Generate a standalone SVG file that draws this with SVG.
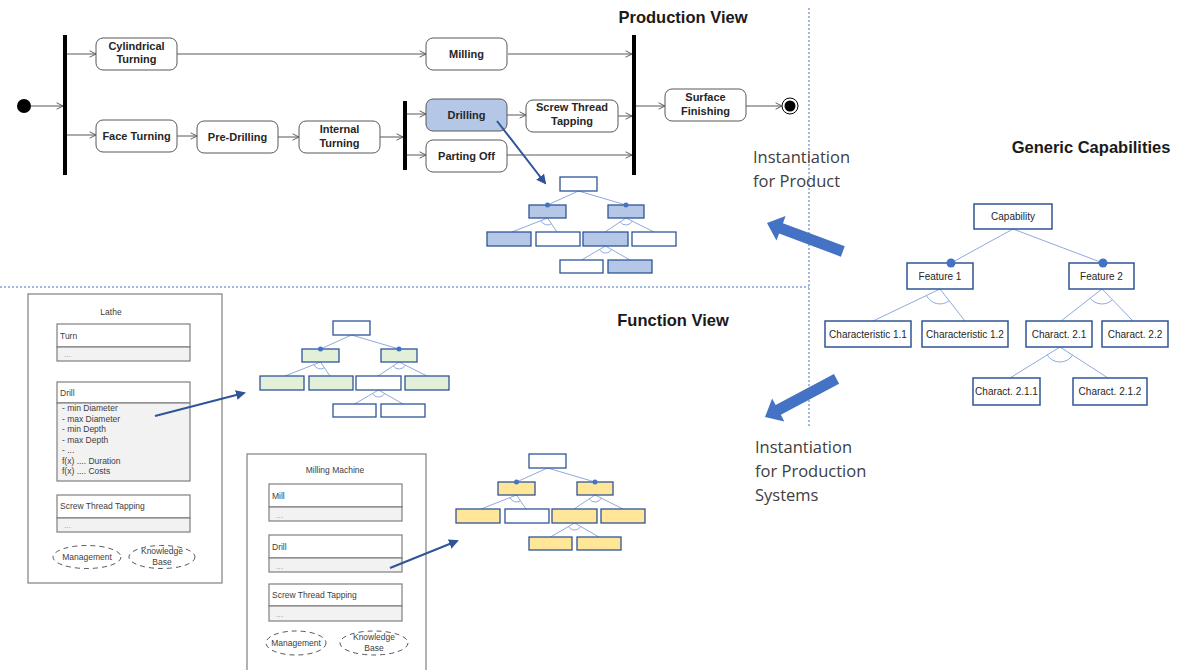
<svg xmlns="http://www.w3.org/2000/svg" xmlns:xlink="http://www.w3.org/1999/xlink" width="1197" height="670" viewBox="0 0 1197 670">
<style>
.title{font-family:"Liberation Sans",Arial,sans-serif;font-weight:bold;font-size:16.5px;fill:#1a1a1a;text-anchor:middle}
.lbl{font-family:"Open Sans","Liberation Sans",sans-serif;font-size:16.5px;fill:#404040}
.act{fill:#fff;stroke:#595959;stroke-width:1}
.actb{fill:#b4c7e7;stroke:#595959;stroke-width:1}
.at{font-family:"Liberation Sans",Arial,sans-serif;font-weight:bold;font-size:11px;fill:#262626;text-anchor:middle}
.flow{stroke:#595959;stroke-width:1;fill:none;marker-end:url(#open)}
.bar{fill:#000}
.dot{fill:#4472c4}
.tl{stroke:#8faadc;stroke-width:1;fill:none}
.cb{fill:#fff;stroke:#2f5597;stroke-width:1.5}
.ct{font-family:"Liberation Sans",Arial,sans-serif;font-size:10px;fill:#262626;text-anchor:middle}
.tw{fill:#fff;stroke:#2f5597;stroke-width:1.3}
.tb{fill:#b4c7e7;stroke:#2f5597;stroke-width:1.3}
.tg{fill:#e2f0d9;stroke:#2f5597;stroke-width:1.3}
.ty{fill:#ffe699;stroke:#2f5597;stroke-width:1.3}
.mach{fill:#fff;stroke:#7f7f7f;stroke-width:1.2}
.sec{fill:#fff;stroke:#7f7f7f;stroke-width:1.2}
.secg{fill:#f2f2f2;stroke:#7f7f7f;stroke-width:1.2}
.mt{font-family:"Liberation Sans",Arial,sans-serif;font-size:8.5px;fill:#404040}
.mtc{font-family:"Liberation Sans",Arial,sans-serif;font-size:8.5px;fill:#404040;text-anchor:middle}
.dots{font-family:"Liberation Sans",Arial,sans-serif;font-size:8.5px;fill:#a6a6a6}
.ell{fill:#fff;stroke:#595959;stroke-width:1;stroke-dasharray:5,4}
.sep{stroke:#4472c4;stroke-width:1;stroke-dasharray:2,2;fill:none}
.link{stroke:#2f5597;stroke-width:2;fill:none;marker-end:url(#solid)}
.big{fill:#4472c4}
</style>
<defs>
<marker id="open" viewBox="0 0 10 10" refX="9" refY="5" markerWidth="8" markerHeight="8" markerUnits="userSpaceOnUse" orient="auto">
<path d="M1,1 L9,5 L1,9" fill="none" stroke="#595959" stroke-width="1.2"/>
</marker>
<marker id="solid" viewBox="0 0 10 10" refX="8" refY="5" markerWidth="5" markerHeight="5" orient="auto">
<path d="M0,0 L10,5 L0,10 z" fill="#2f5597"/>
</marker>
<g id="treeLines">
<path class="tl" d="M18.5,14 L-12.5,28 M18.5,14 L66,28"/>
<path class="tl" d="M-12.5,41 L-48,55 M-12.5,41 L-3,55 M-19,43.6 A7,7 0 0 0 -8.6,46.8"/>
<path class="tl" d="M66,41 L45,55 M66,41 L94,55 M60.2,44.9 A7,7 0 0 0 72.3,44.1"/>
<path class="tl" d="M45.5,69 L21.5,83 M45.5,69 L70,83 M39.5,72.5 A7,7 0 0 0 51.6,72.5"/>
</g>
<path id="bigArrow" d="M0,0 L15,-13 L15,-5.5 L81,-5.5 L81,5.5 L15,5.5 L15,13 Z"/>
</defs>

<!-- separators -->
<g id="separators">
<line class="sep" x1="809" y1="8" x2="809" y2="428"/>
<line class="sep" x1="0" y1="287" x2="809" y2="287"/>
</g>

<!-- titles and labels -->
<text class="title" x="683" y="23">Production View</text>
<text class="title" x="673" y="326">Function View</text>
<text class="title" x="1091" y="153">Generic Capabilities</text>
<text class="lbl" x="753" y="163">Instantiation</text>
<text class="lbl" x="753" y="187">for Product</text>
<text class="lbl" x="755" y="453">Instantiation</text>
<text class="lbl" x="755" y="477">for Production</text>
<text class="lbl" x="755" y="501">Systems</text>

<!-- production view nodes -->
<g id="start"><circle cx="24" cy="106" r="7" fill="#000"/></g>
<g id="fork1"><rect class="bar" x="63" y="35" width="4" height="140"/></g>
<g id="join2"><rect class="bar" x="632" y="35" width="4" height="140"/></g>
<g id="fork3"><rect class="bar" x="403" y="101" width="4" height="69"/></g>
<g id="end"><circle cx="790" cy="106" r="8" fill="#fff" stroke="#000" stroke-width="1"/><circle cx="790" cy="106" r="5.5" fill="#000"/></g>
<g id="cylTurning"><rect class="act" x="96" y="38" width="81" height="32" rx="7"/><text class="at" x="136.5" y="49.5">Cylindrical</text><text class="at" x="136.5" y="63">Turning</text></g>
<g id="milling"><rect class="act" x="426" y="38" width="81" height="32" rx="7"/><text class="at" x="466.5" y="58">Milling</text></g>
<g id="faceTurning"><rect class="act" x="96" y="120" width="81" height="32" rx="7"/><text class="at" x="136.5" y="140">Face Turning</text></g>
<g id="preDrilling"><rect class="act" x="197" y="121" width="81" height="32" rx="7"/><text class="at" x="237.5" y="141">Pre-Drilling</text></g>
<g id="internalTurning"><rect class="act" x="299" y="121" width="81" height="32" rx="7"/><text class="at" x="339.5" y="133">Internal</text><text class="at" x="339.5" y="147">Turning</text></g>
<g id="drilling"><rect class="actb" x="426" y="99" width="81" height="32" rx="7"/><text class="at" x="466.5" y="119">Drilling</text></g>
<g id="screwTapping"><rect class="act" x="526" y="100" width="92" height="32" rx="7"/><text class="at" x="572" y="111">Screw Thread</text><text class="at" x="572" y="125">Tapping</text></g>
<g id="partingOff"><rect class="act" x="426" y="140" width="81" height="32" rx="7"/><text class="at" x="466.5" y="160">Parting Off</text></g>
<g id="surfaceFinishing"><rect class="act" x="665" y="89" width="81" height="32" rx="7"/><text class="at" x="705.5" y="101">Surface</text><text class="at" x="705.5" y="115">Finishing</text></g>

<!-- product instance tree (blue) -->
<g id="treeProduct" transform="translate(560,177)">
<use href="#treeLines"/>
<rect class="tw" x="0" y="0" width="37" height="14"/>
<rect class="tb" x="-31" y="28" width="37" height="13"/>
<rect class="tb" x="48" y="28" width="36" height="13"/>
<rect class="tb" x="-73" y="55" width="44" height="14"/>
<rect class="tw" x="-24" y="55" width="44" height="14"/>
<rect class="tb" x="23" y="55" width="45" height="14"/>
<rect class="tw" x="72" y="55" width="44" height="14"/>
<rect class="tw" x="0" y="83" width="43" height="13"/>
<rect class="tb" x="48" y="83" width="44" height="13"/>
<circle class="dot" cx="-12.5" cy="28" r="2.5"/><circle class="dot" cx="66" cy="28" r="2.5"/>
</g>

<!-- lathe instance tree (green) -->
<g id="treeLathe" transform="translate(333,321)">
<use href="#treeLines"/>
<rect class="tw" x="0" y="0" width="37" height="14"/>
<rect class="tg" x="-31" y="28" width="37" height="13"/>
<rect class="tg" x="48" y="28" width="36" height="13"/>
<rect class="tg" x="-73" y="55" width="44" height="14"/>
<rect class="tg" x="-24" y="55" width="44" height="14"/>
<rect class="tw" x="23" y="55" width="45" height="14"/>
<rect class="tg" x="72" y="55" width="44" height="14"/>
<rect class="tw" x="0" y="83" width="43" height="13"/>
<rect class="tw" x="48" y="83" width="44" height="13"/>
<circle class="dot" cx="-12.5" cy="28" r="2.5"/><circle class="dot" cx="66" cy="28" r="2.5"/>
</g>

<!-- milling instance tree (yellow) -->
<g id="treeMilling" transform="translate(529,454)">
<use href="#treeLines"/>
<rect class="tw" x="0" y="0" width="37" height="14"/>
<rect class="ty" x="-31" y="28" width="37" height="13"/>
<rect class="ty" x="48" y="28" width="36" height="13"/>
<rect class="ty" x="-73" y="55" width="44" height="14"/>
<rect class="tw" x="-24" y="55" width="44" height="14"/>
<rect class="ty" x="23" y="55" width="45" height="14"/>
<rect class="ty" x="72" y="55" width="44" height="14"/>
<rect class="ty" x="0" y="83" width="43" height="13"/>
<rect class="ty" x="48" y="83" width="44" height="13"/>
<circle class="dot" cx="-12.5" cy="28" r="2.5"/><circle class="dot" cx="66" cy="28" r="2.5"/>
</g>

<!-- generic capability tree -->
<g id="capTreeLines">
<path class="tl" d="M1013,229 L951,263 M1013,229 L1103,263"/>
<path class="tl" d="M940,289 L873,321 M940,289 L965,321 M926.5,295.5 A15,15 0 0 0 949.2,300.8"/>
<path class="tl" d="M1102,289 L1061,321 M1102,289 L1133,321 M1090.2,298.2 A15,15 0 0 0 1112.4,299.8"/>
<path class="tl" d="M1060,347 L1010,378 M1060,347 L1108,378 M1047.2,354.9 A15,15 0 0 0 1072.6,355.1"/>
</g>
<g id="capability"><rect class="cb" x="974" y="204" width="78" height="25"/><text class="ct" x="1013" y="219.5">Capability</text></g>
<g id="feature1"><rect class="cb" x="907" y="263" width="66" height="26"/><text class="ct" x="940" y="279.5">Feature 1</text><circle class="dot" cx="951" cy="263" r="4.5"/></g>
<g id="feature2"><rect class="cb" x="1069" y="263" width="65" height="26"/><text class="ct" x="1101.5" y="279.5">Feature 2</text><circle class="dot" cx="1103" cy="263" r="4.5"/></g>
<g id="char11"><rect class="cb" x="825" y="321" width="86" height="26"/><text class="ct" x="868" y="337.5">Characteristic 1.1</text></g>
<g id="char12"><rect class="cb" x="922" y="321" width="86" height="26"/><text class="ct" x="965" y="337.5">Characteristic 1.2</text></g>
<g id="char21"><rect class="cb" x="1026" y="321" width="66" height="26"/><text class="ct" x="1059" y="337.5">Charact. 2.1</text></g>
<g id="char22"><rect class="cb" x="1102" y="321" width="66" height="26"/><text class="ct" x="1135" y="337.5">Charact. 2.2</text></g>
<g id="char211"><rect class="cb" x="973" y="378" width="67" height="27"/><text class="ct" x="1006.5" y="394.5">Charact. 2.1.1</text></g>
<g id="char212"><rect class="cb" x="1073" y="378" width="74" height="27"/><text class="ct" x="1110" y="394.5">Charact. 2.1.2</text></g>

<!-- lathe -->
<g id="lathe">
<rect class="mach" x="28" y="294" width="194" height="289"/>
<text class="mtc" x="111" y="315">Lathe</text>
<rect class="sec" x="57" y="324" width="133" height="23"/>
<rect class="secg" x="57" y="347" width="133" height="14"/>
<text class="mt" x="60" y="339">Turn</text>
<text class="dots" x="64" y="357">...</text>
<rect class="sec" x="57" y="382" width="133" height="21"/>
<rect class="secg" x="57" y="403" width="133" height="78"/>
<text class="mt" x="60" y="396">Drill</text>
<text class="mt" x="62" y="411">- min Diameter</text>
<text class="mt" x="62" y="421.5">- max Diameter</text>
<text class="mt" x="62" y="432">- min Depth</text>
<text class="mt" x="62" y="442.5">- max Depth</text>
<text class="mt" x="62" y="453">- ...</text>
<text class="mt" x="62" y="463.5">f(x) .... Duration</text>
<text class="mt" x="62" y="474">f(x) .... Costs</text>
<rect class="sec" x="57" y="495" width="133" height="23"/>
<rect class="secg" x="57" y="518" width="133" height="14"/>
<text class="mt" x="60" y="509">Screw Thread Tapping</text>
<text class="dots" x="64" y="528">...</text>
<ellipse class="ell" cx="87" cy="557" rx="34" ry="11.5"/>
<text class="mtc" x="87" y="560">Management</text>
<ellipse class="ell" cx="162" cy="557" rx="33" ry="11.5"/>
<text class="mtc" x="162" y="554">Knowledge</text>
<text class="mtc" x="162" y="565">Base</text>
</g>

<!-- milling machine -->
<g id="millingMachine">
<rect class="mach" x="247" y="454" width="179" height="220"/>
<text class="mtc" x="335" y="473">Milling Machine</text>
<rect class="sec" x="269" y="484" width="133" height="23"/>
<rect class="secg" x="269" y="507" width="133" height="14"/>
<text class="mt" x="272" y="499">Mill</text>
<text class="dots" x="276" y="518">...</text>
<rect class="sec" x="269" y="535" width="133" height="23"/>
<rect class="secg" x="269" y="558" width="133" height="14"/>
<text class="mt" x="272" y="550">Drill</text>
<text class="dots" x="276" y="569">...</text>
<rect class="sec" x="269" y="584" width="133" height="22"/>
<rect class="secg" x="269" y="606" width="133" height="15"/>
<text class="mt" x="272" y="598">Screw Thread Tapping</text>
<text class="dots" x="276" y="617">...</text>
<ellipse class="ell" cx="296" cy="643" rx="30" ry="12"/>
<text class="mtc" x="296" y="646">Management</text>
<ellipse class="ell" cx="374" cy="643" rx="34" ry="12"/>
<text class="mtc" x="374" y="640">Knowledge</text>
<text class="mtc" x="374" y="651">Base</text>
</g>

<!-- connectors -->
<g id="connectors">
<line class="flow" x1="31" y1="106" x2="63" y2="106"/>
<line class="flow" x1="67" y1="54" x2="96" y2="54"/>
<line class="flow" x1="177" y1="54" x2="426" y2="54"/>
<line class="flow" x1="508" y1="54" x2="632" y2="54"/>
<line class="flow" x1="67" y1="135" x2="96" y2="135"/>
<line class="flow" x1="177" y1="136" x2="197" y2="136"/>
<line class="flow" x1="278" y1="137" x2="299" y2="137"/>
<line class="flow" x1="380" y1="137" x2="403" y2="137"/>
<line class="flow" x1="407" y1="114" x2="426" y2="114"/>
<line class="flow" x1="507" y1="115" x2="526" y2="115"/>
<line class="flow" x1="618" y1="116" x2="632" y2="116"/>
<line class="flow" x1="407" y1="155" x2="426" y2="155"/>
<line class="flow" x1="507" y1="155" x2="632" y2="155"/>
<line class="flow" x1="636" y1="106" x2="665" y2="106"/>
<line class="flow" x1="746" y1="106" x2="782" y2="106"/>
<line class="link" x1="497" y1="121" x2="545" y2="183"/>
<line class="link" x1="155" y1="416" x2="244" y2="393"/>
<line class="link" x1="390" y1="568" x2="457" y2="541"/>
<use href="#bigArrow" class="big" transform="translate(767,223) rotate(20.6)"/>
<use href="#bigArrow" class="big" transform="translate(765,417) rotate(-28)"/>
</g>
</svg>
